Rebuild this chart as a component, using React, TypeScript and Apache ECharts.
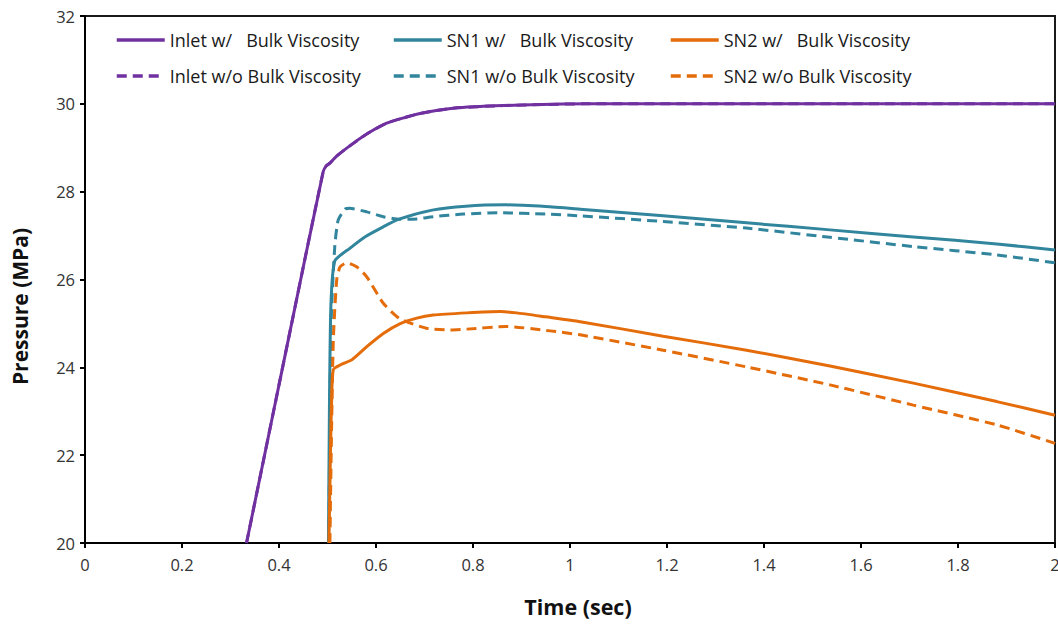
import React, { useEffect, useRef } from "react";
import * as echarts from "echarts";

const inletWith: [number, number][] = [
  [0.333, 20], [0.419, 24.62], [0.491, 28.45], [0.497, 28.58], [0.505, 28.65],
  [0.52, 28.82], [0.553, 29.1], [0.585, 29.34], [0.622, 29.56], [0.66, 29.69],
  [0.691, 29.78], [0.759, 29.9], [0.862, 29.96], [1.034, 30.0], [2, 30.0],
];
const inletWithout: [number, number][] = [
  [0.333, 20], [0.419, 24.62], [0.491, 28.45], [0.497, 28.58], [0.505, 28.65],
  [0.52, 28.82], [0.553, 29.1], [0.585, 29.34], [0.622, 29.56], [0.66, 29.69],
  [0.691, 29.78], [0.759, 29.9], [0.862, 29.96], [1.034, 30.0], [2, 30.0],
];
const sn1With: [number, number][] = [
  [0.502, 20], [0.504, 23.1], [0.507, 25.4], [0.515, 26.42], [0.546, 26.71],
  [0.577, 26.97], [0.615, 27.2], [0.646, 27.37], [0.716, 27.58], [0.785, 27.67],
  [0.868, 27.7], [0.95, 27.66], [1.021, 27.6], [1.192, 27.45], [1.364, 27.29],
  [1.536, 27.13], [1.708, 26.97], [1.88, 26.81], [2, 26.67],
];
const sn1Without: [number, number][] = [
  [0.503, 20], [0.505, 23], [0.508, 25.2], [0.515, 26.75], [0.522, 27.35],
  [0.536, 27.6], [0.546, 27.62], [0.581, 27.54], [0.615, 27.43], [0.649, 27.37],
  [0.684, 27.38], [0.718, 27.43], [0.78, 27.49], [0.854, 27.52], [0.95, 27.49],
  [1.021, 27.45], [1.192, 27.32], [1.364, 27.17], [1.536, 26.96], [1.708, 26.75],
  [1.88, 26.56], [2, 26.38],
];
const sn2With: [number, number][] = [
  [0.503, 20], [0.506, 22], [0.509, 23.5], [0.512, 23.95], [0.519, 24.01],
  [0.533, 24.09], [0.55, 24.17], [0.581, 24.47], [0.615, 24.77], [0.649, 24.99],
  [0.684, 25.12], [0.718, 25.19], [0.787, 25.24], [0.856, 25.27], [0.89, 25.24],
  [0.95, 25.15], [1.021, 25.04], [1.192, 24.71], [1.364, 24.39], [1.536, 24.03],
  [1.708, 23.64], [1.88, 23.22], [2, 22.91],
];
const sn2Without: [number, number][] = [
  [0.505, 20], [0.508, 22.35], [0.512, 24.62], [0.519, 25.99], [0.526, 26.29],
  [0.54, 26.38], [0.56, 26.29], [0.581, 26.06], [0.615, 25.46], [0.649, 25.11],
  [0.704, 24.89], [0.753, 24.85], [0.787, 24.87], [0.869, 24.93], [0.959, 24.83],
  [1.021, 24.74], [1.192, 24.39], [1.364, 24.01], [1.536, 23.6], [1.708, 23.14],
  [1.88, 22.69], [2, 22.27],
];

const names = [
  "Inlet w/   Bulk Viscosity",
  "Inlet w/o Bulk Viscosity",
  "SN1 w/   Bulk Viscosity",
  "SN1 w/o Bulk Viscosity",
  "SN2 w/   Bulk Viscosity",
  "SN2 w/o Bulk Viscosity",
];

const PURPLE = "#7030A0";
const TEAL = "#31859C";
const ORANGE = "#E46C0A";
const FONT = "Open Sans";

export default function App() {
  const ref = useRef<HTMLDivElement>(null);
  useEffect(() => {
    if (!ref.current) return;
    const chart = echarts.init(ref.current, undefined, { renderer: "svg" });
    const mk = (name: string, data: [number, number][], color: string, dashed: boolean, z: number) => ({
      name,
      type: "line",
      data,
      showSymbol: false,
      symbol: "none",
      smooth: 0.2,
      z,
      clip: true,
      lineStyle: { color, width: 3, type: dashed ? [10, 6] : "solid" },
      itemStyle: { color },
    });
    const legendCommon = {
      orient: "vertical",
      top: 31,
      padding: 0,
      itemGap: 18,
      itemWidth: 48,
      itemHeight: 18,
      itemStyle: { opacity: 0 },
      lineStyle: { width: 3.5 },
      textStyle: { fontFamily: FONT, fontSize: 18, color: "#1a1a1a" },
    };
    chart.setOption({
      animation: false,
      textStyle: { fontFamily: FONT },
      grid: {
        left: 85,
        right: 3,
        top: 16,
        bottom: 81,
        outerBoundsMode: "none",
        containLabel: false,
        show: true,
        borderColor: "#1a1a1a",
        borderWidth: 2,
      },
      legend: [
        { ...legendCommon, left: 115, data: [names[0], names[1]] },
        { ...legendCommon, left: 392, data: [names[2], names[3]] },
        { ...legendCommon, left: 669, data: [names[4], names[5]] },
      ],
      xAxis: {
        type: "value",
        min: 0,
        max: 2,
        interval: 0.2,
        name: "Time (sec)",
        nameLocation: "middle",
        nameGap: 52,
        nameTextStyle: {
          fontFamily: FONT, fontSize: 21.5, fontWeight: "bold", color: "#111",
          padding: [0, 0, 0, 16],
        },
        axisLine: { lineStyle: { color: "#000", width: 2 } },
        axisTick: { show: true, length: 5, inside: false, lineStyle: { color: "#000", width: 2 } },
        axisLabel: { fontFamily: FONT, fontSize: 16.5, color: "#333", margin: 13 },
        splitLine: { show: false },
      },
      yAxis: {
        type: "value",
        min: 20,
        max: 32,
        interval: 2,
        name: "Pressure (MPa)",
        nameLocation: "middle",
        nameGap: 55,
        nameTextStyle: {
          fontFamily: FONT, fontSize: 21, fontWeight: "bold", color: "#111",
          padding: [0, 54, 0, 0],
        },
        axisLine: { show: true, lineStyle: { color: "#000", width: 2 } },
        axisTick: { show: true, length: 5, inside: false, lineStyle: { color: "#000", width: 2 } },
        axisLabel: { fontFamily: FONT, fontSize: 16.5, color: "#333", margin: 10 },
        splitLine: { show: false },
      },
      series: [
        mk(names[0], inletWith, PURPLE, false, 10),
        mk(names[1], inletWithout, PURPLE, true, 5),
        mk(names[2], sn1With, TEAL, false, 4),
        mk(names[3], sn1Without, TEAL, true, 4),
        mk(names[4], sn2With, ORANGE, false, 4),
        mk(names[5], sn2Without, ORANGE, true, 4),
      ],
    });
    return () => chart.dispose();
  }, []);
  return (
    <div
      ref={ref}
      style={{ position: "absolute", left: 0, top: 0, width: 1058, height: 624 }}
    />
  );
}
